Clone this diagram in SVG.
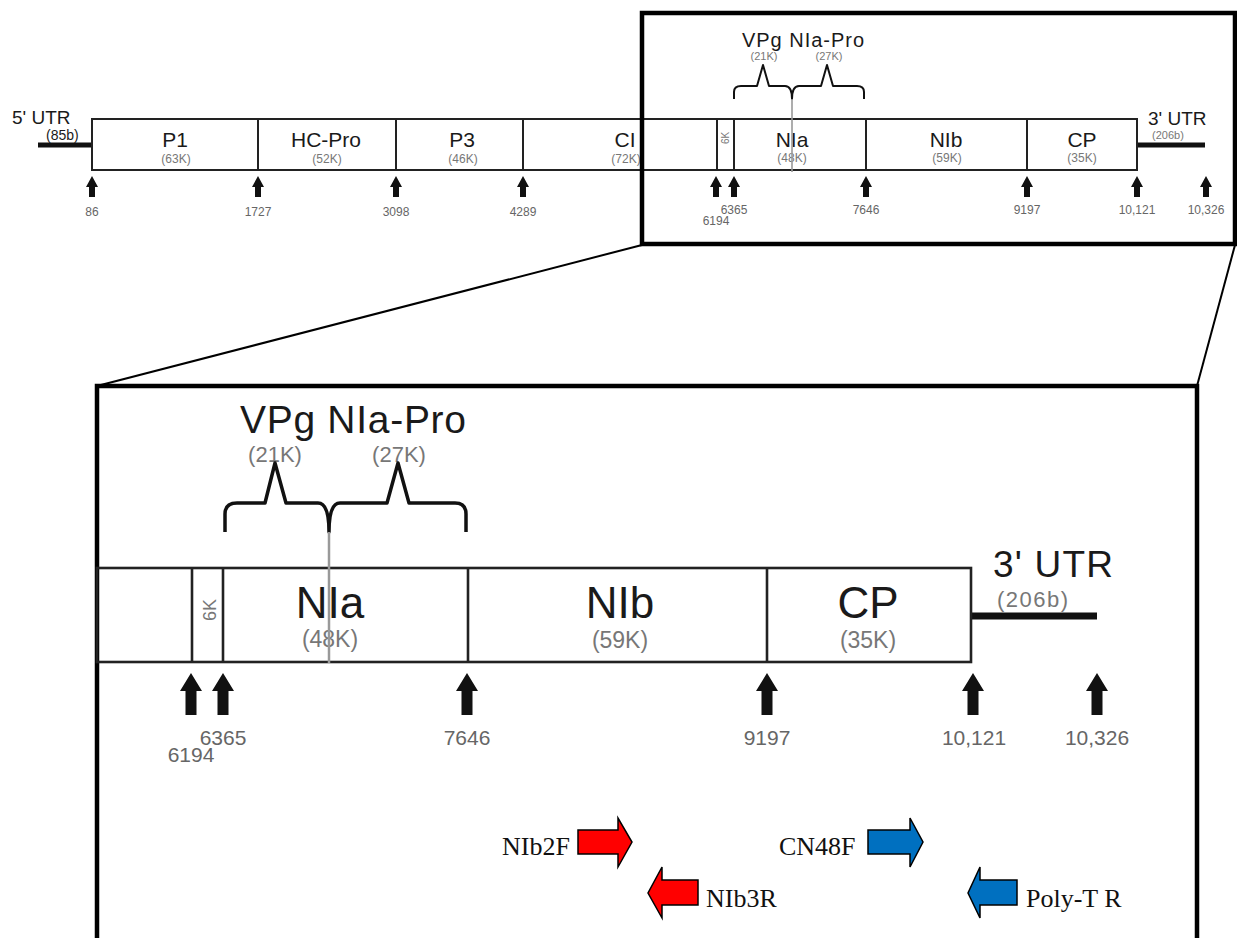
<svg xmlns="http://www.w3.org/2000/svg" width="1237" height="938" viewBox="0 0 1237 938">
<style>
.bx{fill:none;stroke:#222;stroke-width:2}
.bxL{fill:none;stroke:#222;stroke-width:2.6}
.frame{fill:none;stroke:#000;stroke-width:4.5}
.utr{stroke:#111;stroke-width:5}
.utrL{stroke:#111;stroke-width:7}
.zl{stroke:#000;stroke-width:2;fill:none}
.brace{fill:none;stroke:#111;stroke-width:2;stroke-linejoin:round}
.braceL{fill:none;stroke:#111;stroke-width:3.5;stroke-linejoin:round}
.gl{stroke:#999;stroke-width:1.6}
.glL{stroke:#999;stroke-width:2.5}
.arr{fill:#111}
.nm{font-family:"Liberation Sans",Arial,sans-serif;fill:#1a1a1a;text-anchor:middle}
.kd{font-family:"Liberation Sans",Arial,sans-serif;fill:#777;text-anchor:middle}
.ps{font-family:"Liberation Sans",Arial,sans-serif;fill:#666;text-anchor:middle}
.st{text-anchor:start}
.pr{font-family:"Liberation Serif","Times New Roman",serif;fill:#111;font-size:26px}
.red{fill:#ff0000;stroke:#000;stroke-width:1.5;stroke-linejoin:miter}
.blue{fill:#0070c0;stroke:#000;stroke-width:1.5;stroke-linejoin:miter}
</style>
<defs>
<path id="aS" class="arr" d="M0,0 L6,11 L3,11 L3,21 L-3,21 L-3,11 L-6,11 Z"/>
<path id="aL" class="arr" d="M0,0 L11,18 L5.5,18 L5.5,42 L-5.5,42 L-5.5,18 L-11,18 Z"/>
</defs>
<rect width="1237" height="938" fill="#fff"/>

<!-- ===== TOP GENOME MAP ===== -->
<g id="top-map">
  <line class="utr" x1="38" y1="145" x2="92" y2="145"/>
  <line class="utr" x1="1137" y1="145" x2="1205" y2="145"/>
  <rect class="bx" x="92" y="119" width="1045" height="51"/>
  <g class="bx">
    <line x1="258" y1="119" x2="258" y2="170"/>
    <line x1="396" y1="119" x2="396" y2="170"/>
    <line x1="523" y1="119" x2="523" y2="170"/>
    <line x1="717" y1="119" x2="717" y2="170"/>
    <line x1="734" y1="119" x2="734" y2="170"/>
    <line x1="866" y1="119" x2="866" y2="170"/>
    <line x1="1027" y1="119" x2="1027" y2="170"/>
  </g>
</g>
<g id="t-utr5"><text class="nm st" x="12" y="124" font-size="19">5' UTR</text><text class="nm st" x="46" y="140" font-size="14">(85b)</text></g>
<g id="t-p1"><text class="nm" x="175" y="147" font-size="21">P1</text><text class="kd" x="176" y="163" font-size="12">(63K)</text></g>
<g id="t-hcpro"><text class="nm" x="326" y="147" font-size="21">HC-Pro</text><text class="kd" x="327" y="163" font-size="12">(52K)</text></g>
<g id="t-p3"><text class="nm" x="462" y="147" font-size="21">P3</text><text class="kd" x="463" y="163" font-size="12">(46K)</text></g>
<g id="t-ci"><text class="nm" x="625" y="147" font-size="21">CI</text><text class="kd" x="626" y="163" font-size="12">(72K)</text></g>
<g id="t-6k"><text class="kd" transform="translate(729,138) rotate(-90)" font-size="10">6K</text></g>
<g id="t-nia"><text class="nm" x="792" y="147" font-size="21">NIa</text><text class="kd" x="792" y="162" font-size="12">(48K)</text></g>
<g id="t-nib"><text class="nm" x="946" y="147" font-size="21">NIb</text><text class="kd" x="947" y="162" font-size="12">(59K)</text></g>
<g id="t-cp"><text class="nm" x="1082" y="147" font-size="21">CP</text><text class="kd" x="1082" y="162" font-size="12">(35K)</text></g>
<g id="t-utr3"><text class="nm st" x="1148" y="125" font-size="19">3' UTR</text><text class="kd st" x="1152" y="139" font-size="11">(206b)</text></g>
<g id="t-vpg">
  <text class="nm st" x="742" y="47" font-size="20" textLength="122">VPg NIa-Pro</text>
  <text class="kd" x="764" y="60" font-size="11">(21K)</text>
  <text class="kd" x="829" y="60" font-size="11">(27K)</text>
  <path class="brace" d="M734,99 L734,92 Q734,86 741,86 L757,86 L763,65 L769,86 L785,86 Q792,86 792,99 Q792,86 799,86 L821,86 L827,65 L833,86 L857,86 Q864,86 864,92 L864,99"/>
  <line class="gl" x1="792" y1="99" x2="792" y2="172"/>
</g>
<g id="t-sites">
  <use href="#aS" x="92" y="176"/><use href="#aS" x="258" y="176"/><use href="#aS" x="396" y="176"/>
  <use href="#aS" x="523" y="176"/><use href="#aS" x="716" y="176"/><use href="#aS" x="734" y="176"/>
  <use href="#aS" x="866" y="176"/><use href="#aS" x="1027" y="176"/><use href="#aS" x="1137" y="176"/>
  <use href="#aS" x="1206" y="176"/>
  <g font-size="12">
  <text class="ps" x="92" y="216">86</text>
  <text class="ps" x="258" y="216">1727</text>
  <text class="ps" x="396" y="216">3098</text>
  <text class="ps" x="523" y="216">4289</text>
  <text class="ps" x="716" y="225">6194</text>
  <text class="ps" x="734" y="214">6365</text>
  <text class="ps" x="866" y="214">7646</text>
  <text class="ps" x="1027" y="214">9197</text>
  <text class="ps" x="1137" y="214">10,121</text>
  <text class="ps" x="1206" y="214">10,326</text>
  </g>
</g>
<g id="top-frame"><rect class="frame" x="642" y="13" width="593" height="231"/></g>

<!-- ===== ZOOM CONNECTORS ===== -->
<g id="connectors">
  <line class="zl" x1="642" y1="245" x2="97" y2="386"/>
  <line class="zl" x1="1235" y1="245" x2="1197" y2="386"/>
</g>

<!-- ===== ENLARGED MAP ===== -->
<g id="big-frame"><path class="frame" d="M97,940 L97,386 L1197,386 L1197,940"/></g>
<g id="big-map">
  <line class="utrL" x1="971" y1="616" x2="1097" y2="616"/>
  <rect class="bxL" x="97" y="568" width="874" height="94"/>
  <g class="bxL">
    <line x1="192" y1="568" x2="192" y2="662"/>
    <line x1="223" y1="568" x2="223" y2="662"/>
    <line x1="468" y1="568" x2="468" y2="662"/>
    <line x1="767" y1="568" x2="767" y2="662"/>
  </g>
</g>
<g id="b-6k"><text class="kd" transform="translate(216,610) rotate(-90)" font-size="18">6K</text></g>
<g id="b-nia"><text class="nm" x="330" y="618" font-size="44">NIa</text><text class="kd" x="330" y="647" font-size="23">(48K)</text></g>
<g id="b-nib"><text class="nm" x="620" y="618" font-size="44">NIb</text><text class="kd" x="620" y="648" font-size="23">(59K)</text></g>
<g id="b-cp"><text class="nm" x="868" y="618" font-size="44">CP</text><text class="kd" x="868" y="648" font-size="23">(35K)</text></g>
<g id="b-utr3"><text class="nm st" x="993" y="577" font-size="37" textLength="120">3' UTR</text><text class="kd st" x="997" y="607" font-size="22" textLength="71">(206b)</text></g>
<g id="b-vpg">
  <text class="nm st" x="240" y="433" font-size="39" textLength="226">VPg NIa-Pro</text>
  <text class="kd" x="275" y="462" font-size="22">(21K)</text>
  <text class="kd" x="399" y="462" font-size="22">(27K)</text>
  <path class="braceL" d="M225,532 L225,514 Q225,503 237,503 L265,503 L275,463 L286,503 L318,503 Q329,503 329,532 Q329,503 340,503 L387,503 L398,463 L409,503 L455,503 Q466,503 466,514 L466,532"/>
  <line class="glL" x1="329" y1="532" x2="329" y2="663"/>
</g>
<g id="b-sites">
  <use href="#aL" x="191" y="673"/><use href="#aL" x="223" y="673"/><use href="#aL" x="467" y="673"/>
  <use href="#aL" x="767" y="673"/><use href="#aL" x="973" y="673"/><use href="#aL" x="1097" y="673"/>
  <g font-size="21">
  <text class="ps" x="191" y="762">6194</text>
  <text class="ps" x="223" y="745">6365</text>
  <text class="ps" x="467" y="745">7646</text>
  <text class="ps" x="767" y="745">9197</text>
  <text class="ps" x="974" y="745">10,121</text>
  <text class="ps" x="1097" y="745">10,326</text>
  </g>
</g>

<!-- ===== PRIMERS ===== -->
<g id="p-nib2f">
  <text class="pr" x="502" y="855">NIb2F</text>
  <polygon class="red" points="578,830 618,830 618,818 632,842 618,867 618,854 578,854"/>
</g>
<g id="p-nib3r">
  <polygon class="red" points="698,880 662,880 662,867 648,893 662,918 662,905 698,905"/>
  <text class="pr" x="706" y="907">NIb3R</text>
</g>
<g id="p-cn48f">
  <text class="pr" x="779" y="855">CN48F</text>
  <polygon class="blue" points="868,830 910,830 910,818 923,842 910,867 910,854 868,854"/>
</g>
<g id="p-polyt">
  <polygon class="blue" points="1017,880 980,880 980,867 968,893 980,918 980,905 1017,905"/>
  <text class="pr" x="1026" y="907">Poly-T R</text>
</g>
</svg>
